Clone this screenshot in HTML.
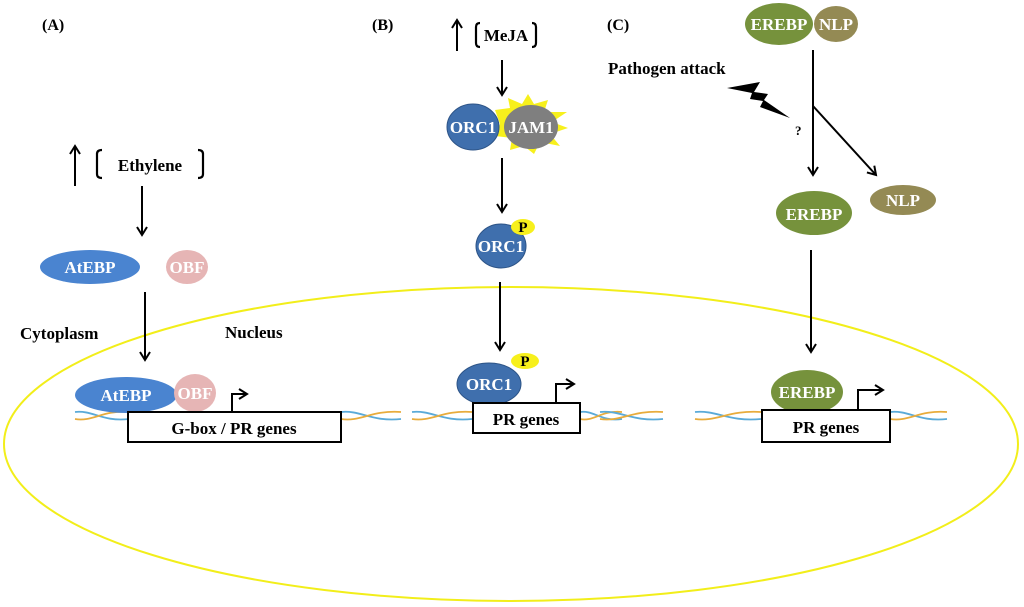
<!DOCTYPE html>
<html><head><meta charset="utf-8"><style>
html,body{margin:0;padding:0;background:#fff;}
svg{display:block;font-family:"Liberation Serif",serif;font-weight:bold;}
</style></head><body>
<svg width="1024" height="607" viewBox="0 0 1024 607" xmlns="http://www.w3.org/2000/svg">
<defs>
<marker id="ah" markerWidth="12" markerHeight="12" refX="9" refY="6" orient="auto" markerUnits="userSpaceOnUse">
<path d="M1,1 L9,6 L1,11" fill="none" stroke="#000" stroke-width="2"/>
</marker>
<g id="dna">
<path d="M0,-4 C20,-6 30,6 60,3" fill="none" stroke="#5aaad8" stroke-width="1.8"/>
<path d="M0,3 C20,6 30,-6 60,-4" fill="none" stroke="#e8ac3c" stroke-width="1.8"/>
</g>
</defs>

<ellipse cx="511" cy="444" rx="507" ry="157" fill="none" stroke="#f2ee1a" stroke-width="2"/>

<use href="#dna" transform="translate(75,416) scale(0.9,1)"/>
<use href="#dna" transform="translate(341,416)"/>
<use href="#dna" transform="translate(412,416)"/>
<use href="#dna" transform="translate(580,416) scale(0.7,1)"/>
<use href="#dna" transform="translate(600,416) scale(1.05,1)"/>
<use href="#dna" transform="translate(695,416) scale(1.1,1)"/>
<use href="#dna" transform="translate(890,416) scale(0.95,1)"/>

<g font-size="17" fill="#000">
<!-- Panel A -->
<text x="42" y="30" font-size="16">(A)</text>
<line x1="75" y1="186" x2="75" y2="146" stroke="#000" stroke-width="2" marker-end="url(#ah)"/>
<path d="M102,150 Q97,150 97,154 L97,174 Q97,178 102,178" fill="none" stroke="#000" stroke-width="2.2"/>
<path d="M198,150 Q203,150 203,154 L203,174 Q203,178 198,178" fill="none" stroke="#000" stroke-width="2.2"/>
<text x="150" y="171" text-anchor="middle">Ethylene</text>
<line x1="142" y1="186" x2="142" y2="235" stroke="#000" stroke-width="2" marker-end="url(#ah)"/>
<ellipse cx="90" cy="267" rx="50" ry="17" fill="#4a84d0"/>
<text x="90" y="273" text-anchor="middle" fill="#fff">AtEBP</text>
<ellipse cx="187" cy="267" rx="21" ry="17" fill="#e6b5b5"/>
<text x="187" y="273" text-anchor="middle" fill="#fff">OBF</text>
<line x1="145" y1="292" x2="145" y2="360" stroke="#000" stroke-width="2" marker-end="url(#ah)"/>
<text x="20" y="339">Cytoplasm</text>
<text x="225" y="338">Nucleus</text>
<ellipse cx="126" cy="395" rx="51" ry="18" fill="#4a84d0"/>
<text x="126" y="401" text-anchor="middle" fill="#fff">AtEBP</text>
<ellipse cx="195" cy="393" rx="21" ry="19" fill="#e6b5b5"/>
<text x="195" y="399" text-anchor="middle" fill="#fff">OBF</text>
<path d="M232,412 L232,394 L247,394" fill="none" stroke="#000" stroke-width="2" marker-end="url(#ah)"/>
<rect x="128" y="412" width="213" height="30" fill="#fff" stroke="#000" stroke-width="2"/>
<text x="234" y="434" text-anchor="middle">G-box / PR genes</text>

<!-- Panel B -->
<text x="372" y="30" font-size="16">(B)</text>
<line x1="457" y1="51" x2="457" y2="20" stroke="#000" stroke-width="2" marker-end="url(#ah)"/>
<path d="M480,23 Q476,23 476,27 L476,43 Q476,47 480,47" fill="none" stroke="#000" stroke-width="2.2"/>
<path d="M532,23 Q536,23 536,27 L536,43 Q536,47 532,47" fill="none" stroke="#000" stroke-width="2.2"/>
<text x="506" y="41" text-anchor="middle">MeJA</text>
<line x1="502" y1="60" x2="502" y2="95" stroke="#000" stroke-width="2" marker-end="url(#ah)"/>
<polygon points="495,110 510,108 508,98 522,104 528,94 534,104 548,100 544,112 567,112 552,122 568,128 550,134 560,146 540,142 534,154 524,146 510,150 512,138 495,136 500,124" fill="#f7f01c"/>
<ellipse cx="473" cy="127" rx="26" ry="23" fill="#3f6fad" stroke="#2d5487" stroke-width="1"/>
<text x="473" y="133" text-anchor="middle" fill="#fff">ORC1</text>
<ellipse cx="531" cy="127" rx="27" ry="22" fill="#7f7f7f"/>
<text x="531" y="133" text-anchor="middle" fill="#fff">JAM1</text>
<line x1="502" y1="158" x2="502" y2="212" stroke="#000" stroke-width="2" marker-end="url(#ah)"/>
<ellipse cx="501" cy="246" rx="25" ry="22" fill="#3f6fad" stroke="#2d5487" stroke-width="1"/>
<ellipse cx="523" cy="227" rx="12" ry="8" fill="#f7f01c"/>
<text x="523" y="232" text-anchor="middle" font-size="15">P</text>
<text x="501" y="252" text-anchor="middle" fill="#fff">ORC1</text>
<line x1="500" y1="282" x2="500" y2="350" stroke="#000" stroke-width="2" marker-end="url(#ah)"/>
<ellipse cx="489" cy="384" rx="32" ry="21" fill="#3f6fad" stroke="#2d5487" stroke-width="1"/>
<text x="489" y="390" text-anchor="middle" fill="#fff">ORC1</text>
<ellipse cx="525" cy="361" rx="14" ry="8" fill="#f7f01c"/>
<text x="525" y="366" text-anchor="middle" font-size="15">P</text>
<path d="M556,404 L556,384 L574,384" fill="none" stroke="#000" stroke-width="2" marker-end="url(#ah)"/>
<rect x="473" y="403" width="107" height="30" fill="#fff" stroke="#000" stroke-width="2"/>
<text x="526" y="425" text-anchor="middle">PR genes</text>

<!-- Panel C -->
<text x="607" y="30" font-size="16">(C)</text>
<ellipse cx="779" cy="24" rx="34" ry="21" fill="#76923c"/>
<text x="779" y="30" text-anchor="middle" fill="#fff">EREBP</text>
<ellipse cx="836" cy="24" rx="22" ry="18" fill="#948a54"/>
<text x="836" y="30" text-anchor="middle" fill="#fff">NLP</text>
<text x="608" y="74">Pathogen attack</text>
<polygon points="727,88 760,82 754,92 768,94 764,100 790,118 760,107 763,101 750,99 752,93" fill="#000"/>
<text x="795" y="135" font-size="13">?</text>
<line x1="813" y1="50" x2="813" y2="175" stroke="#000" stroke-width="2" marker-end="url(#ah)"/>
<line x1="813" y1="106" x2="876" y2="175" stroke="#000" stroke-width="2" marker-end="url(#ah)"/>
<ellipse cx="814" cy="213" rx="38" ry="22" fill="#76923c"/>
<text x="814" y="220" text-anchor="middle" fill="#fff">EREBP</text>
<ellipse cx="903" cy="200" rx="33" ry="15" fill="#948a54"/>
<text x="903" y="206" text-anchor="middle" fill="#fff">NLP</text>
<line x1="811" y1="250" x2="811" y2="352" stroke="#000" stroke-width="2" marker-end="url(#ah)"/>
<ellipse cx="807" cy="392" rx="36" ry="22" fill="#76923c"/>
<text x="807" y="398" text-anchor="middle" fill="#fff">EREBP</text>
<path d="M858,410 L858,390 L883,390" fill="none" stroke="#000" stroke-width="2" marker-end="url(#ah)"/>
<rect x="762" y="410" width="128" height="32" fill="#fff" stroke="#000" stroke-width="2"/>
<text x="826" y="433" text-anchor="middle">PR genes</text>
</g>
</svg>
</body></html>
